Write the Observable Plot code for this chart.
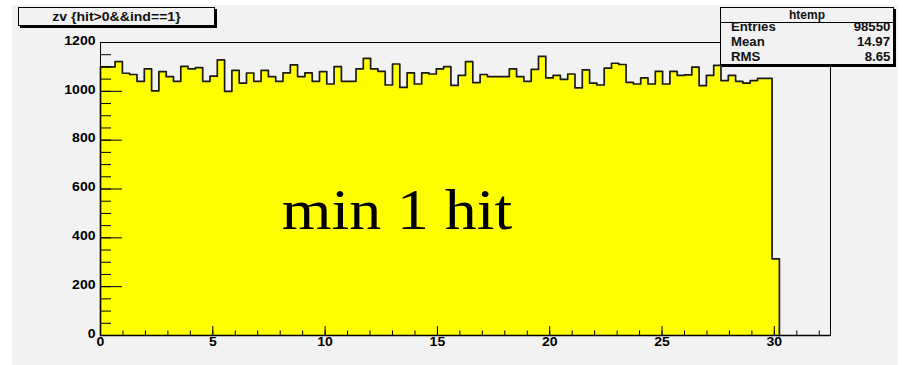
<!DOCTYPE html>
<html>
<head>
<meta charset="utf-8">
<script src="https://cdn.jsdelivr.net/npm/d3@7"></script>
<script src="https://cdn.jsdelivr.net/npm/@observablehq/plot@0.6"></script>
<style>
  html, body { margin: 0; padding: 0; background: #ffffff; }
  body { width: 903px; height: 365px; overflow: hidden; position: relative; font-family: "Liberation Sans", Arial, sans-serif; }
  #pad { position: absolute; left: 12px; top: 5px; width: 886px; height: 360px; background: #f2f2f2; }
  #chart { position: absolute; left: 0; top: 0; }
  .box { position: absolute; border: 1px solid #000; box-shadow: 2px 2px 0 #000; background: #f2f2f2; box-sizing: border-box; }
  #title { left: 18px; top: 7px; width: 197px; height: 19px; text-align: center; font-size: 13px; font-weight: bold; line-height: 17px; color: #111; }
  #stats { left: 720px; top: 7px; width: 174px; height: 58px; font-size: 12px; font-weight: bold; color: #111; }
  #stats .hdr { height: 14px; border-bottom: 1px solid #000; text-align: center; font-weight: bold; font-size: 12px; line-height: 14px; }
  #stats .row { position: absolute; left: 10px; right: 3px; height: 14px; line-height: 14px; }
  #stats .row span.v { position: absolute; right: 0; }
  .sx { display: inline-block; transform: scaleX(1.1); transform-origin: left center; }
  .sxr { display: inline-block; transform: scaleX(1.1); transform-origin: right center; }
</style>
</head>
<body>
<div id="pad"></div>
<div id="chart"></div>
<div id="title" class="box"></div>
<div id="stats" class="box"></div>
<script>
// ---- data (ROOT histogram "htemp") ----
const histName = "htemp";
const titleText = "zv {hit>0&&ind==1}";
const annotationText = "min 1 hit";
const binWidth = 0.325;            // 100 bins over [0, 32.5]
const counts = [
  1100,1100,1122,1074,1069,1041,1092,1002,1081,1060,
  1041,1102,1092,1097,1041,1062,1129,1000,1086,1034,
  1075,1041,1086,1060,1041,1076,1108,1060,1076,1041,
  1081,1030,1101,1041,1041,1092,1135,1092,1082,1026,
  1112,1016,1076,1030,1076,1071,1092,1101,1024,1065,
  1122,1036,1069,1060,1060,1060,1092,1060,1041,1090,
  1143,1055,1065,1049,1071,1014,1088,1034,1026,1095,
  1115,1110,1037,1030,1055,1030,1082,1030,1082,1065,
  1067,1099,1023,1065,1106,1044,1065,1041,1034,1044,
  1053,1053,314
];
const statLabels = ["Entries", "Mean", "RMS"];
const statValues = ["98550", "14.97", "8.65"];
const xTicks = [0, 5, 10, 15, 20, 25, 30];
const xTickLabels = ["0", "5", "10", "15", "20", "25", "30"];
const xMinorTicks = d3.range(0, 33, 1);
const yTicks = [0, 200, 400, 600, 800, 1000, 1200];
const yTickLabels = ["0", "200", "400", "600", "800", "1000", "1200"];
const yMinorTicks = d3.range(0, 1201, 50);
const annotation = [{x: 13.2, y: 436, text: annotationText}];

// ---- step outline built from the bins ----
const outline = [{x: 0, y: 0}];
counts.forEach((c, i) => {
  outline.push({x: i * binWidth, y: c});
  outline.push({x: (i + 1) * binWidth, y: c});
});
outline.push({x: counts.length * binWidth, y: 0});

const axisFont = {fontSize: 13, fontWeight: "bold", fontFamily: "Liberation Sans, Arial, sans-serif"};

const chart = Plot.plot({
  width: 903,
  height: 365,
  marginLeft: 100,
  marginRight: 73,
  marginTop: 42,
  marginBottom: 30,
  style: {background: "transparent", color: "#000", fontFamily: "Liberation Sans, Arial, sans-serif"},
  x: {domain: [0, 32.5], label: null},
  y: {domain: [0, 1200], label: null},
  marks: [
    Plot.area(outline, {x1: "x", y1: 0, y2: "y", fill: "#ffff00", curve: "linear"}),
    Plot.line(outline, {x: "x", y: "y", stroke: "#1a1a1a", strokeWidth: 1.7, curve: "linear"}),
    Plot.frame({stroke: "#000", strokeWidth: 1}),
    Plot.ruleY([0], {stroke: "#000", strokeWidth: 1.6}),
    Plot.axisX({ticks: xMinorTicks, tickSize: -4.5, fill: "none", stroke: "#000", label: null}),
    Plot.axisX({ticks: xTicks, tickSize: -9, fill: "none", stroke: "#000", label: null}),
    Plot.axisX({ticks: xTicks, tickSize: 0, stroke: "none", tickPadding: 1, label: null,
      tickFormat: (d) => xTickLabels[xTicks.indexOf(d)], fill: "#000", ...axisFont}),
    Plot.axisY({ticks: yMinorTicks, tickSize: -11, fill: "none", stroke: "#000", label: null}),
    Plot.axisY({ticks: yTicks, tickSize: -22, fill: "none", stroke: "#000", label: null}),
    Plot.axisY({ticks: yTicks, tickSize: 0, stroke: "none", tickPadding: 5, dy: -2, label: null,
      tickFormat: (d) => yTickLabels[yTicks.indexOf(d)], fill: "#000", ...axisFont}),
    Plot.text(annotation, {x: "x", y: "y", text: "text", lineAnchor: "bottom", textAnchor: "middle",
      fontSize: 56, fontFamily: "Liberation Serif, Times New Roman, serif", fontWeight: "normal", fill: "#000"})
  ]
});

// stretch texts horizontally like the reference
chart.querySelectorAll("text").forEach(t => {
  const s = t.textContent === annotationText ? 1.14 : 1.08;
  const tr = t.getAttribute("transform");
  if (tr) {
    t.setAttribute("transform", tr + ` scale(${s},1)`);
  } else {
    const x = t.getAttribute("x") || 0, y = t.getAttribute("y") || 0;
    t.removeAttribute("x"); t.removeAttribute("y");
    t.setAttribute("transform", `translate(${x},${y}) scale(${s},1)`);
  }
});
document.getElementById("chart").appendChild(chart);

// title box
const titleEl = document.getElementById("title");
const ts = document.createElement("span");
ts.textContent = titleText;
ts.style.display = "inline-block";
ts.style.transform = "scaleX(1.08)";
titleEl.appendChild(ts);

// stats box
const stats = document.getElementById("stats");
const hdr = document.createElement("div");
hdr.className = "hdr";
hdr.textContent = histName;
stats.appendChild(hdr);
statLabels.forEach((lab, i) => {
  const row = document.createElement("div");
  row.className = "row";
  row.style.top = (12 + i * 15) + "px";
  row.innerHTML = `<span class="sx">${lab}</span><span class="v"><span class="sxr">${statValues[i]}</span></span>`;
  stats.appendChild(row);
});
</script>
</body>
</html>
